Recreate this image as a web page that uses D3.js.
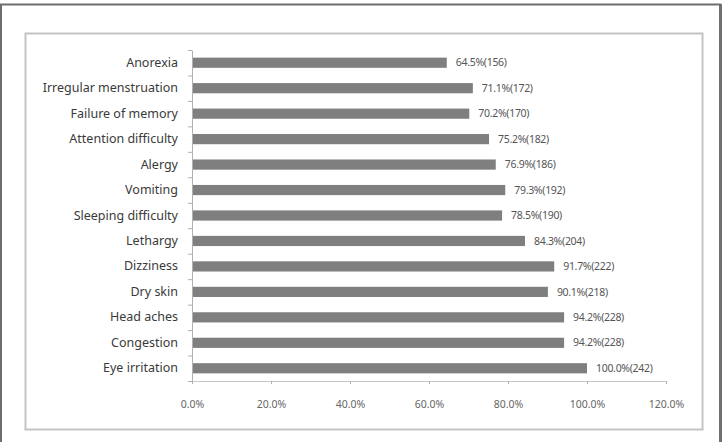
<!DOCTYPE html>
<html>
<head>
<meta charset="utf-8">
<script src="https://cdn.jsdelivr.net/npm/d3@7"></script>
<style>
  body { margin: 0; background: #fff; }
  svg { display: block; font-family: "Noto Sans", "DejaVu Sans", sans-serif; }
</style>
</head>
<body>
<svg id="chart" width="725" height="442"></svg>
<script>
// symptoms, top to bottom
const categories = ["Anorexia", "Irregular menstruation", "Failure of memory", "Attention difficulty",
  "Alergy", "Vomiting", "Sleeping difficulty", "Lethargy", "Dizziness", "Dry skin",
  "Head aches", "Congestion", "Eye irritation"];
const percents = [64.5, 71.1, 70.2, 75.2, 76.9, 79.3, 78.5, 84.3, 91.7, 90.1, 94.2, 94.2, 100.0];
const counts = [156, 172, 170, 182, 186, 192, 190, 204, 222, 218, 228, 228, 242];
const xTicks = [0, 20, 40, 60, 80, 100, 120];

const svg = d3.select("#chart");

// marcos
svg.append("rect").attr("x", 1).attr("y", 4.5).attr("width", 719).attr("height", 460)
  .attr("fill", "none").attr("stroke", "#6e6e6e").attr("stroke-width", 2);
svg.append("line").attr("x1", 720.5).attr("x2", 720.5).attr("y1", 4).attr("y2", 442)
  .attr("stroke", "#707070").attr("stroke-width", 3);
svg.append("rect").attr("x", 25.5).attr("y", 33.5).attr("width", 677).attr("height", 396)
  .attr("fill", "#fff").attr("stroke", "#c4c4c4").attr("stroke-width", 2);

const m = { left: 192, right: 666, top: 50, bottom: 381 };

const x = d3.scaleLinear().domain([0, 120]).range([m.left, m.right]);
const y = d3.scaleBand().domain(categories).range([m.top, m.bottom])
  .paddingInner(0.6).paddingOuter(0.3);
const yIdx = d3.scaleLinear().domain([0, categories.length]).range([m.top, m.bottom]);

const data = categories.map((c, i) => ({ label: c, pct: percents[i], n: counts[i] }));

// barras
svg.append("g").selectAll("rect")
  .data(data)
  .join("rect")
  .attr("x", x(0))
  .attr("y", d => y(d.label))
  .attr("width", d => x(d.pct) - x(0))
  .attr("height", y.bandwidth())
  .attr("fill", "#7f7f7f");

// etiquetas de valor
svg.append("g").selectAll("text")
  .data(data)
  .join("text")
  .attr("x", d => x(d.pct) + 9)
  .attr("y", d => y(d.label) + y.bandwidth() / 2)
  .attr("dy", "0.35em")
  .text(d => `${d.pct.toFixed(1)}%(${d.n})`)
  .style("font-size", "10.5px")
  .style("fill", "#555")
  .style("letter-spacing", "-0.3px");

// Eje Y: ticks en los limites de cada banda
const gyTicks = svg.append("g")
  .attr("transform", `translate(${m.left},0)`)
  .call(d3.axisLeft(yIdx).tickValues(d3.range(categories.length + 1)).tickFormat("").tickSize(4).tickSizeOuter(0));
gyTicks.select(".domain").attr("stroke", "#b0b0b0");
gyTicks.selectAll(".tick line").attr("stroke", "#b0b0b0");

const gyLabels = svg.append("g")
  .attr("transform", `translate(${m.left},0)`)
  .call(d3.axisLeft(y).tickSize(0).tickPadding(14));
gyLabels.select(".domain").remove();
gyLabels.selectAll("text")
  .style("font-size", "12.5px")
  .style("fill", "#3a3a3a")
  .style("font-family", "Noto Sans, DejaVu Sans, sans-serif");

// Eje X
const gx = svg.append("g")
  .attr("transform", `translate(0,${m.bottom})`)
  .call(d3.axisBottom(x).tickValues(xTicks).tickFormat(d => d.toFixed(1) + "%").tickSize(3).tickSizeOuter(0).tickPadding(17));
gx.select(".domain").attr("stroke", "#c8c8c8");
gx.selectAll(".tick line").attr("stroke", "#b0b0b0");
gx.selectAll("text")
  .style("font-size", "10.5px")
  .style("fill", "#666")
  .style("font-family", "Noto Sans, DejaVu Sans, sans-serif");
</script>
</body>
</html>
